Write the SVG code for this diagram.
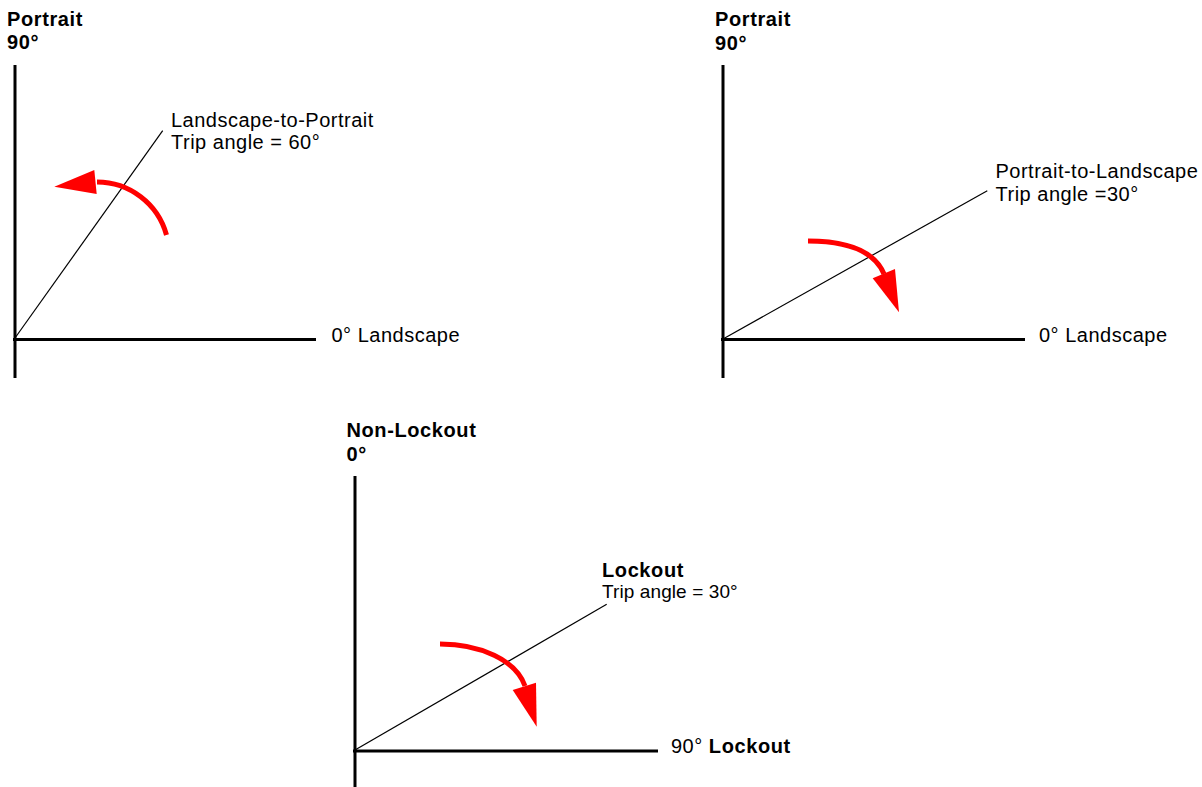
<svg xmlns="http://www.w3.org/2000/svg" width="1202" height="787" viewBox="0 0 1202 787">
<style>
.axis{stroke:#000;stroke-width:3;fill:none}
.diag{stroke:#000;stroke-width:1.2;fill:none}
.arc{stroke:#ff0000;stroke-width:5;fill:none}
.head{fill:#ff0000;stroke:none}
.t{font-family:"Liberation Sans",Arial,sans-serif;font-size:20px;fill:#000;letter-spacing:0.5px}
.b{font-weight:bold;letter-spacing:0.6px}
.s{font-size:19px;letter-spacing:0.1px}
</style>
<rect width="1202" height="787" fill="#fff"/>
<g id="panel-landscape-to-portrait">
  <line class="axis" x1="15" y1="65" x2="15" y2="378"/>
  <line class="axis" x1="13" y1="339.5" x2="316" y2="339.5"/>
  <line class="diag" x1="15" y1="338" x2="162.7" y2="130.7"/>
  <text class="t b" x="7" y="26">Portrait</text>
  <text class="t b" x="7" y="49">90°</text>
  <text class="t" x="171" y="127">Landscape-to-Portrait</text>
  <text class="t" x="171" y="149">Trip angle = 60°</text>
  <text class="t" x="331.5" y="341.5">0° Landscape</text>
</g>
<g id="panel-portrait-to-landscape">
  <line class="axis" x1="723" y1="65" x2="723" y2="378"/>
  <line class="axis" x1="721" y1="339.5" x2="1025" y2="339.5"/>
  <line class="diag" x1="723" y1="339" x2="987.3" y2="190.7"/>
  <text class="t b" x="715" y="26">Portrait</text>
  <text class="t b" x="715" y="50">90°</text>
  <text class="t" x="995.5" y="178">Portrait-to-Landscape</text>
  <text class="t" x="995.5" y="201">Trip angle =30°</text>
  <text class="t" x="1039" y="341.5">0° Landscape</text>
</g>
<g id="panel-lockout">
  <line class="axis" x1="355" y1="476" x2="355" y2="787"/>
  <line class="axis" x1="353" y1="751" x2="658" y2="751"/>
  <line class="diag" x1="355" y1="750" x2="606.7" y2="604.3"/>
  <text class="t b" x="346.5" y="437">Non-Lockout</text>
  <text class="t b" x="346.5" y="461">0°</text>
  <text class="t b" x="602" y="576.5">Lockout</text>
  <text class="t s" x="602" y="597.5">Trip angle = 30°</text>
  <text class="t" x="671" y="752.5">90° <tspan class="b">Lockout</tspan></text>
</g>
<g id="connectors">
  <path class="arc" d="M166.5,235 A72,72 0 0 0 97,182"/>
  <polygon class="head" points="94.3,170 54.3,186.7 96.7,194"/>
  <path class="arc" d="M808,241 C846,241 874,250 884,274"/>
  <polygon class="head" points="872.7,278.3 899,312.3 895,269"/>
  <path class="arc" d="M440,644 C480,644 516,660 525,686"/>
  <polygon class="head" points="512.7,690 536.7,726.7 536,682.7"/>
</g>
</svg>
